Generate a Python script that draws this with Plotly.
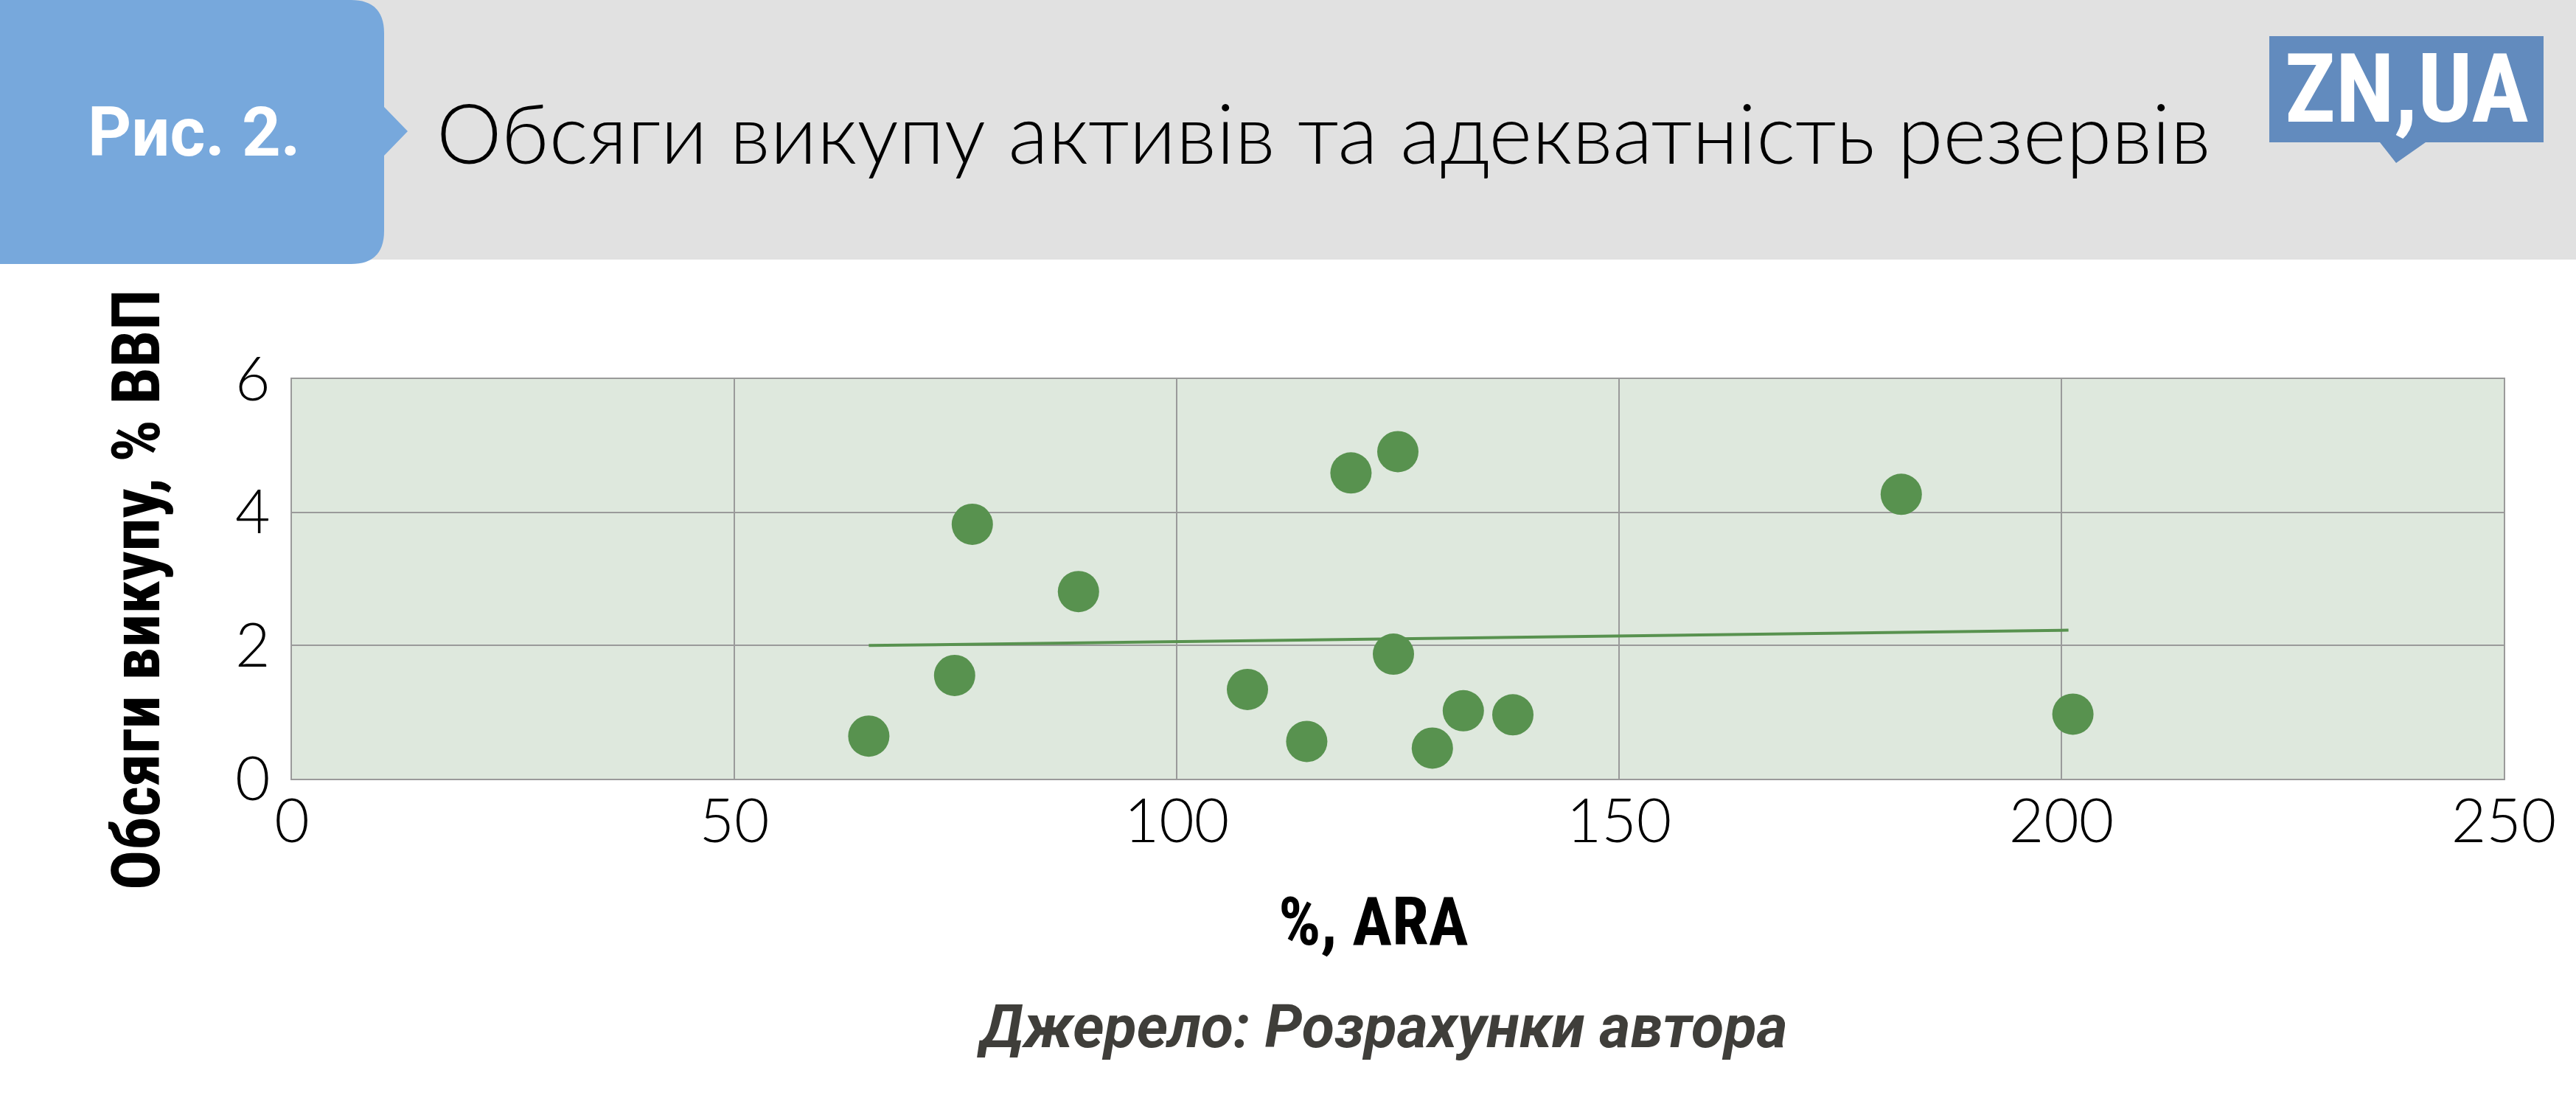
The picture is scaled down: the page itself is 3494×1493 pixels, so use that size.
import plotly.graph_objects as go

# readings from the reference
ara_pct = [65.2, 74.9, 76.9, 88.9, 108.0, 114.7, 119.7, 125.0, 124.5, 128.9, 132.4, 138.0, 181.9, 201.3]
buyback_gdp = [0.64, 1.55, 3.82, 2.81, 1.34, 0.56, 4.59, 4.91, 1.87, 0.46, 1.02, 0.96, 4.27, 0.97]
trend_x = [65.2, 200.8]
trend_y = [2.0, 2.23]
x_ticks = [0, 50, 100, 150, 200, 250]
y_ticks = [0, 2, 4, 6]

W, H = 3494, 1493
ML, MR, MT, MB = 396, 98, 514, 437
PW, PH = W - ML - MR, H - MT - MB

GREEN = "#58924F"
GRID = "#9a9a9a"
NARROW = "Liberation Sans Narrow, Roboto Condensed, Arial Narrow, sans-serif"


def px(x):
    return (x - ML) / PW


def py(y):
    return (H - MB - y) / PH


def label(text, x, y, size, family, color="black", **kw):
    return dict(text=text, x=px(x), y=py(y), xref="paper", yref="paper",
                xanchor=kw.pop("xanchor", "center"), yanchor="middle", showarrow=False,
                font=dict(family=family, size=size, color=color, weight=kw.pop("weight", None)), **kw)


fig = go.Figure()
fig.add_trace(go.Scatter(
    x=trend_x, y=trend_y, mode="lines",
    line=dict(color=GREEN, width=4), hoverinfo="skip",
))
fig.add_trace(go.Scatter(
    x=ara_pct, y=buyback_gdp, mode="markers",
    marker=dict(size=56, color=GREEN, line=dict(width=0)),
))

# header band, blue label box with arrow, logo
r = 45
box = (f"M {px(0)},{py(0)} L {px(521 - r)},{py(0)} Q {px(521)},{py(0)} {px(521)},{py(r)} "
       f"L {px(521)},{py(145)} L {px(553)},{py(178)} L {px(521)},{py(211)} "
       f"L {px(521)},{py(358 - r)} Q {px(521)},{py(358)} {px(521 - r)},{py(358)} "
       f"L {px(0)},{py(358)} Z")
logo = (f"M {px(3078)},{py(49)} L {px(3450)},{py(49)} L {px(3450)},{py(193)} "
        f"L {px(3290)},{py(193)} L {px(3250)},{py(221)} L {px(3228)},{py(193)} "
        f"L {px(3078)},{py(193)} Z")
shapes = [
    dict(type="rect", xref="paper", yref="paper", x0=px(0), x1=px(W), y0=py(352), y1=py(0),
         fillcolor="#E1E1E1", line=dict(width=0), layer="below"),
    dict(type="path", xref="paper", yref="paper", path=box,
         fillcolor="#77A8DC", line=dict(width=0)),
    dict(type="path", xref="paper", yref="paper", path=logo,
         fillcolor="#628BBE", line=dict(width=0)),
]

annotations = [
    label("<b>Рис. 2.</b>", 263, 180, 92, "Roboto, sans-serif", "white"),
    label("Обсяги викупу активів та адекватність резервів", 590, 178, 112, "Lato, sans-serif",
          xanchor="left", weight=300),
    label("<b>ZN,UA</b>", 3264, 120, 130, NARROW, "white"),
    label("<b>Обсяги викупу, % ВВП</b>", 185, 800, 90, NARROW, textangle=-90),
    label("<b>%, ARA</b>", 1862, 1250, 90, NARROW),
    label("<b><i>Джерело: Розрахунки автора</i></b>", 1875, 1392, 81, "Roboto, sans-serif", "#3F3E3A"),
]

tickfont = dict(family="Lato, sans-serif", size=82, color="black", weight=300)
fig.update_layout(
    width=W, height=H, autosize=False,
    margin=dict(l=ML, r=MR, t=MT, b=MB),
    paper_bgcolor="white", plot_bgcolor="#DEE8DD",
    showlegend=False,
    shapes=shapes, annotations=annotations,
    xaxis=dict(range=[0, 250], tickvals=x_ticks, showgrid=True, gridcolor=GRID, gridwidth=1.5,
               zeroline=False, showline=True, linecolor=GRID, linewidth=2, mirror=True,
               ticks="", ticklabelstandoff=-14, tickfont=tickfont),
    yaxis=dict(range=[0, 6], tickvals=y_ticks, showgrid=True, gridcolor=GRID, gridwidth=2,
               zeroline=False, showline=True, linecolor=GRID, linewidth=2, mirror=True,
               ticks="", ticklabelstandoff=11, tickfont=tickfont),
)

fig.write_html("out.html", config={"displayModeBar": False},
               post_script="document.body.style.margin='0';document.body.style.overflow='hidden';")
